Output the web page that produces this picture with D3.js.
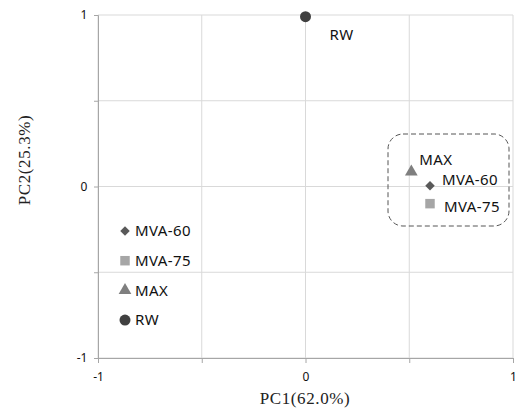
<!DOCTYPE html>
<html>
<head>
<meta charset="utf-8">
<script src="https://cdn.jsdelivr.net/npm/d3@7"></script>
<style>
  body { margin: 0; background: #fff; }
  svg { display: block; }
</style>
</head>
<body>
<svg id="chart" width="520" height="409"></svg>
<script>
// data
const names = ["MVA-60", "MVA-75", "MAX", "RW"]
const pc1 = [0.60, 0.60, 0.51, 0.00]
const pc2 = [0.005, -0.10, 0.085, 0.99]
const shapes = ["diamond", "square", "triangle", "circle"]
const colors = ["#595959", "#a6a6a6", "#7f7f7f", "#404040"]
const ticks = [-1, 0, 1]
const gridTicks = [-1, -0.5, 0, 0.5, 1]

const svg = d3.select("#chart")
const x = d3.scaleLinear().domain([-1, 1]).range([98, 513])
const y = d3.scaleLinear().domain([-1, 1]).range([358, 15])

const symbolOf = {
    diamond: d3.symbolSquare,
    square: d3.symbolSquare,
    triangle: d3.symbolTriangle,
    circle: d3.symbolCircle
}
const sizeOf = { diamond: 45, square: 90, triangle: 70, circle: 95 }
const rotOf = { diamond: 45, square: 0, triangle: 0, circle: 0 }

// grid
svg.append("g").selectAll("line.v")
    .data(gridTicks)
    .join("line")
    .attr("x1", d => x(d)).attr("x2", d => x(d))
    .attr("y1", y(1)).attr("y2", y(-1))
    .attr("stroke", "#d9d9d9")
svg.append("g").selectAll("line.h")
    .data(gridTicks)
    .join("line")
    .attr("x1", x(-1)).attr("x2", x(1))
    .attr("y1", d => y(d)).attr("y2", d => y(d))
    .attr("stroke", "#d9d9d9")

// axes
let xAxis = svg.append("g")
    .attr("transform", "translate(0," + y(-1) + ")")
    .call(d3.axisBottom(x).tickValues(gridTicks).tickSize(5).tickFormat(d => ticks.includes(d) ? d : ""))
let yAxis = svg.append("g")
    .attr("transform", "translate(" + x(-1) + ",0)")
    .call(d3.axisLeft(y).tickValues(gridTicks).tickSize(4).tickFormat(d => ticks.includes(d) ? d : ""))
for (let ax of [xAxis, yAxis]) {
    ax.select(".domain").attr("stroke", "#a6a6a6")
    ax.selectAll(".tick line").attr("stroke", "#a6a6a6")
    ax.selectAll("text")
        .attr("font-family", "Noto Sans, sans-serif")
        .attr("font-size", 12)
        .attr("fill", "#111")
}
xAxis.selectAll("text").attr("dy", "1.25em")
yAxis.selectAll("text").attr("dx", "-0.3em")

// axis titles
svg.append("text")
    .attr("x", 305).attr("y", 404)
    .attr("text-anchor", "middle")
    .attr("font-family", "Liberation Serif, serif")
    .attr("font-size", 17)
    .attr("letter-spacing", 0.6)
    .attr("fill", "#222")
    .text("PC1(62.0%)")
svg.append("text")
    .attr("transform", "translate(30,160) rotate(-90)")
    .attr("text-anchor", "middle")
    .attr("font-family", "Liberation Serif, serif")
    .attr("font-size", 17)
    .attr("letter-spacing", 0.6)
    .attr("fill", "#222")
    .text("PC2(25.3%)")

// dashed group box
svg.append("rect")
    .attr("x", 388).attr("y", 134)
    .attr("width", 121).attr("height", 92)
    .attr("rx", 15).attr("ry", 15)
    .attr("fill", "none")
    .attr("stroke", "#555")
    .attr("stroke-dasharray", "5,3")

function marker(i) {
    return d3.symbol(symbolOf[shapes[i]], sizeOf[shapes[i]])()
}

// points
svg.append("g").selectAll("path")
    .data(names)
    .join("path")
    .attr("transform", (d, i) => "translate(" + x(pc1[i]) + "," + y(pc2[i]) + ") rotate(" + rotOf[shapes[i]] + ")")
    .attr("d", (d, i) => marker(i))
    .attr("fill", (d, i) => colors[i])

// point labels
const labelDx = [12, 14, 8, 24]
const labelDy = [-6, 3, -12, 18]
svg.append("g").selectAll("text")
    .data(names)
    .join("text")
    .attr("x", (d, i) => x(pc1[i]) + labelDx[i])
    .attr("y", (d, i) => y(pc2[i]) + labelDy[i])
    .attr("dy", "0.35em")
    .attr("font-family", "Noto Sans, sans-serif")
    .attr("font-size", 15)
    .attr("letter-spacing", 0.4)
    .attr("fill", "#111")
    .text(d => d)

// legend
let legend = svg.append("g").attr("transform", "translate(125,231)")
let item = legend.selectAll("g")
    .data(names)
    .join("g")
    .attr("transform", (d, i) => "translate(0," + (i * 29.7) + ")")
item.append("path")
    .attr("transform", (d, i) => "rotate(" + rotOf[shapes[i]] + ")")
    .attr("d", (d, i) => marker(i))
    .attr("fill", (d, i) => colors[i])
item.append("text")
    .attr("x", 10)
    .attr("dy", "0.35em")
    .attr("font-family", "Noto Sans, sans-serif")
    .attr("font-size", 15)
    .attr("letter-spacing", 0.4)
    .attr("fill", "#111")
    .text(d => d)
</script>
</body>
</html>
